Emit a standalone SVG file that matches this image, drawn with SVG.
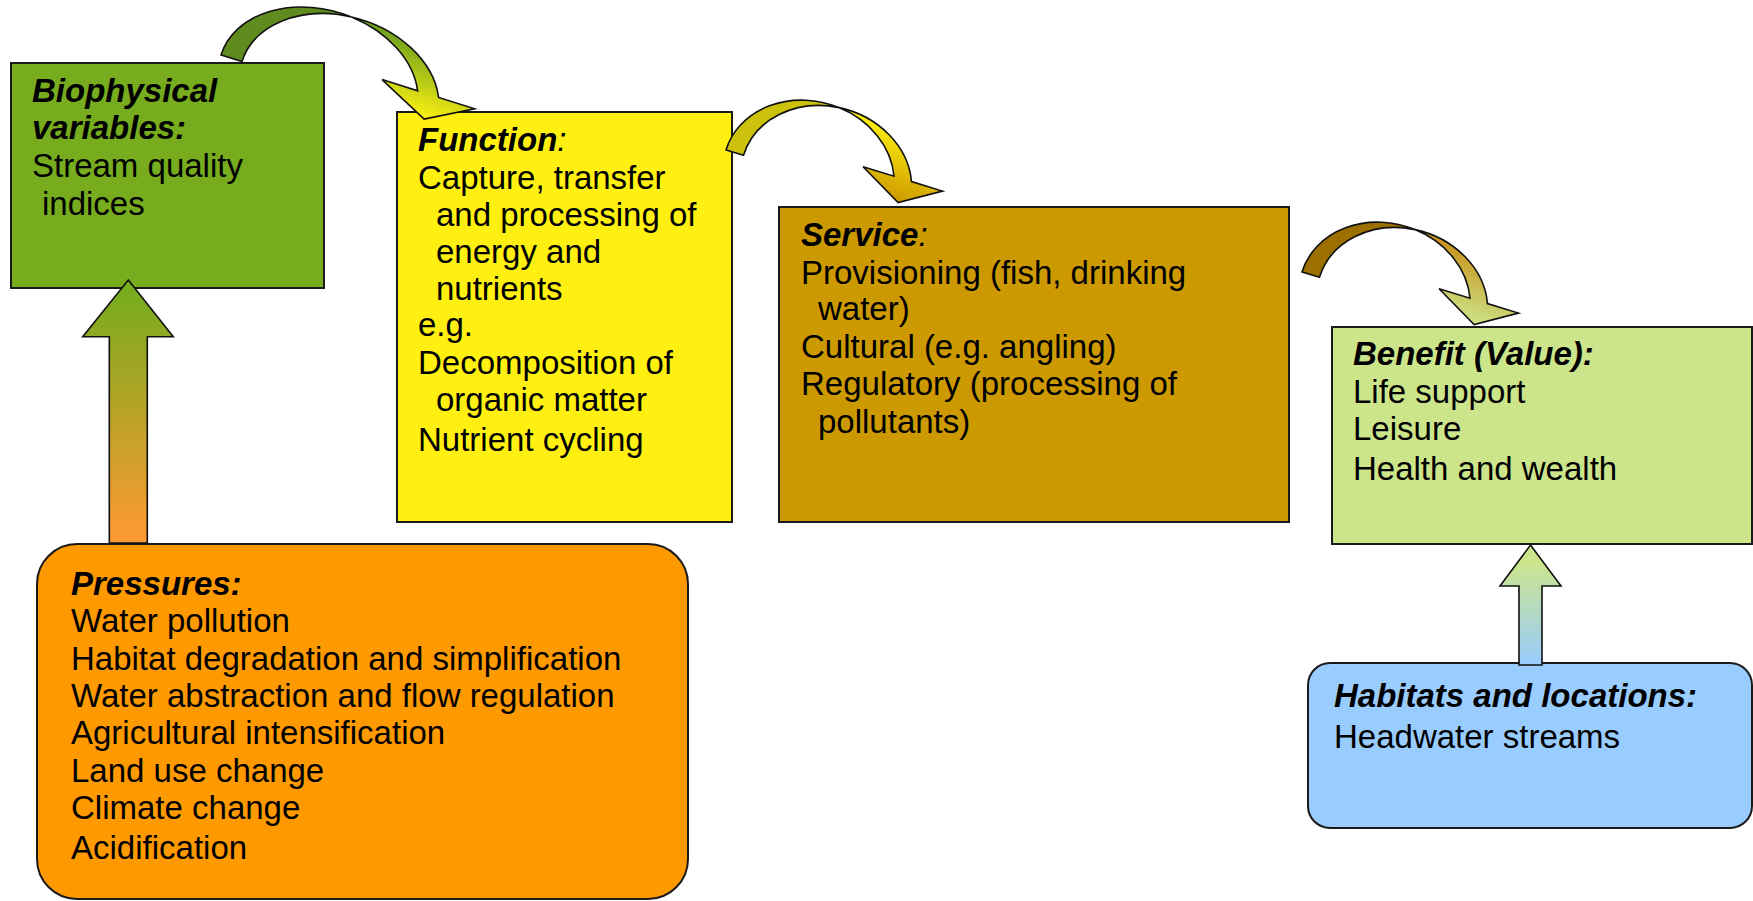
<svg xmlns="http://www.w3.org/2000/svg" width="1753" height="901" viewBox="0 0 1753 901">
<defs>
<style>
.box{stroke:#1a1a1a;stroke-width:2}
.arr{stroke:#111;stroke-width:1.6;stroke-linejoin:miter}
text{font-family:"Liberation Sans",Arial,sans-serif;font-size:33px;fill:#000}
.h{font-weight:bold;font-style:italic}
.c{font-weight:normal;font-style:italic}
</style>
<linearGradient id="gUp1" x1="0" y1="290" x2="0" y2="543" gradientUnits="userSpaceOnUse">
<stop offset="0" stop-color="#76AC1E"/><stop offset="1" stop-color="#FF9933"/>
</linearGradient>
<linearGradient id="gUp2" x1="0" y1="560" x2="0" y2="665" gradientUnits="userSpaceOnUse">
<stop offset="0" stop-color="#CCE58A"/><stop offset="1" stop-color="#99CCFF"/>
</linearGradient>
<linearGradient id="gC1" x1="0" y1="-76" x2="0" y2="0" gradientUnits="userSpaceOnUse">
<stop offset="0" stop-color="#6A9E1E"/><stop offset="1" stop-color="#FFF212"/>
</linearGradient>
<linearGradient id="gC2" x1="0" y1="-74" x2="0" y2="0" gradientUnits="userSpaceOnUse">
<stop offset="0" stop-color="#FFF011"/><stop offset="1" stop-color="#CC9900"/>
</linearGradient>
<linearGradient id="gC3" x1="0" y1="-74" x2="0" y2="0" gradientUnits="userSpaceOnUse">
<stop offset="0" stop-color="#C8921A"/><stop offset="1" stop-color="#CCE58A"/>
</linearGradient>
</defs>
<rect width="1753" height="901" fill="#fff"/>

<g id="biophysical">
<rect class="box" x="11" y="63" width="313" height="225" fill="#76AC1E"/>
<text x="32" y="102" class="h">Biophysical</text>
<text x="32" y="138.5" class="h">variables:</text>
<text x="32" y="177">Stream quality</text>
<text x="42" y="215">indices</text>
</g>

<g id="function">
<rect class="box" x="397" y="112" width="335" height="410" fill="#FFF011"/>
<text x="418" y="151"><tspan class="h">Function</tspan><tspan class="c">:</tspan></text>
<text x="418" y="188.5">Capture, transfer</text>
<text x="436" y="226">and processing of</text>
<text x="436" y="263">energy and</text>
<text x="436" y="299.5">nutrients</text>
<text x="418" y="336">e.g.</text>
<text x="418" y="373.5">Decomposition of</text>
<text x="436" y="411">organic matter</text>
<text x="418" y="451">Nutrient cycling</text>
</g>

<g id="service">
<rect class="box" x="779" y="207" width="510" height="315" fill="#CC9900"/>
<text x="801" y="246"><tspan class="h">Service</tspan><tspan class="c">:</tspan></text>
<text x="801" y="283.5">Provisioning (fish, drinking</text>
<text x="818" y="320">water)</text>
<text x="801" y="357.5">Cultural (e.g. angling)</text>
<text x="801" y="395">Regulatory (processing of</text>
<text x="818" y="432.5">pollutants)</text>
</g>

<g id="benefit">
<rect class="box" x="1332" y="327" width="420" height="217" fill="#CCE58A"/>
<text x="1353" y="365" class="h">Benefit (Value):</text>
<text x="1353" y="402.5">Life support</text>
<text x="1353" y="440">Leisure</text>
<text x="1353" y="480">Health and wealth</text>
</g>

<g id="pressures">
<rect class="box" x="37" y="544" width="651" height="355" rx="40" ry="40" fill="#FF9900"/>
<text x="71" y="595" class="h">Pressures:</text>
<text x="71" y="632">Water pollution</text>
<text x="71" y="669.5">Habitat degradation and simplification</text>
<text x="71" y="707">Water abstraction and flow regulation</text>
<text x="71" y="744">Agricultural intensification</text>
<text x="71" y="782">Land use change</text>
<text x="71" y="818.5">Climate change</text>
<text x="71" y="858.5">Acidification</text>
</g>

<g id="habitats">
<rect class="box" x="1308" y="663" width="444" height="165" rx="22" ry="22" fill="#99CCFF"/>
<text x="1334" y="707" class="h">Habitats and locations:</text>
<text x="1334" y="748">Headwater streams</text>
</g>

<g id="connectors">
<path class="arr" fill="url(#gUp1)" d="M128.3,280 L173.3,336.7 L147.3,336.7 L147.3,543 L109.3,543 L109.3,336.7 L82.7,336.7 Z"/>
<path class="arr" fill="url(#gUp2)" d="M1530.5,545 L1561,586 L1542,586 L1542,665 L1519,665 L1519,586 L1500,586 Z"/>

<g transform="translate(221,55) rotate(17.5)">
<path class="arr" fill="url(#gC1)" d="M113,-75.56 A102,76 0 0 1 220.3,-25 L258,-25 L213,0 L161,-25 L198.3,-25 A102,76 0 0 0 113,-75.56 Z"/>
<path class="arr" fill="#5F8B1F" d="M0,0 A102,76 0 0 1 113,-75.56 A102,76 0 0 0 22,0 Z"/>
</g>

<g transform="translate(726,150) rotate(17)">
<path class="arr" fill="url(#gC2)" d="M95.65,-73.58 A86.5,74 0 0 1 186.62,-24 L219,-24 L180,0 L136,-24 L168.32,-24 A86.5,74 0 0 0 95.65,-73.58 Z"/>
<path class="arr" fill="#CCC20C" d="M0,0 A86.5,74 0 0 1 95.65,-73.58 A86.5,74 0 0 0 18.3,0 Z"/>
</g>

<g transform="translate(1302,272) rotate(17)">
<path class="arr" fill="url(#gC3)" d="M95.65,-73.58 A86.5,74 0 0 1 186.62,-24 L219,-24 L180,0 L136,-24 L168.32,-24 A86.5,74 0 0 0 95.65,-73.58 Z"/>
<path class="arr" fill="#9C7000" d="M0,0 A86.5,74 0 0 1 95.65,-73.58 A86.5,74 0 0 0 18.3,0 Z"/>
</g>
</g>
</svg>
